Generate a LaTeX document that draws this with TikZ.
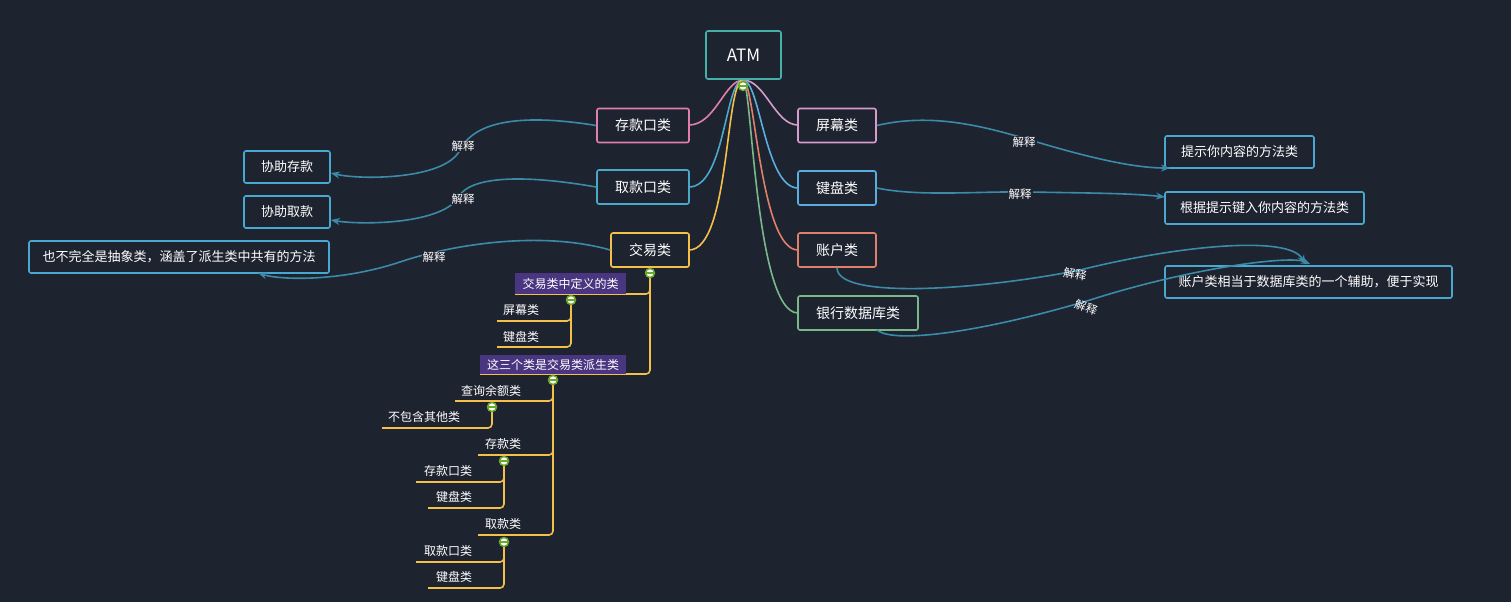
\documentclass[tikz,border=0pt]{standalone}
\usepackage{fontspec}
\setmainfont{Noto Sans CJK SC}
\usetikzlibrary{arrows.meta}
\definecolor{bg}{HTML}{1E2330}
\definecolor{cpink}{HTML}{E07FB0}
\definecolor{cteal}{HTML}{4AA8C8}
\definecolor{cyel}{HTML}{F5C04A}
\definecolor{clav}{HTML}{D89CCC}
\definecolor{cblue}{HTML}{5AAEE0}
\definecolor{csal}{HTML}{E0806A}
\definecolor{cgreen}{HTML}{7AB88A}
\definecolor{catm}{HTML}{45B0A8}
\definecolor{cleaf}{HTML}{4AA8D0}
\definecolor{conn}{HTML}{3A8AA8}
\definecolor{cpur}{HTML}{4A3580}
\definecolor{cknob}{HTML}{6AAA2A}
\tikzset{
 box/.style={draw=#1,line width=1.6pt,rounded corners=2pt,fill=bg,text=white,minimum height=34pt,font=\fontsize{14}{14}\selectfont,inner sep=0pt},
 leaf/.style={draw=cleaf,line width=1.6pt,rounded corners=2pt,fill=bg,text=white,minimum height=32pt,font=\fontsize{13}{13}\selectfont,inner sep=0pt},
 br/.style={line width=1.6pt,#1},
 rel/.style={draw=conn,line width=1.6pt,-{Stealth[length=9pt,width=7pt]}},
 lab/.style={text=white,font=\fontsize{11.5}{11.5}\selectfont,inner sep=1pt},
 sub/.style={text=white,font=\fontsize{12}{12}\selectfont,inner sep=1pt},
 pur/.style={fill=cpur,text=white,font=\fontsize{12}{12}\selectfont,inner sep=0pt},
 knob/.style={circle,fill=white,draw=cknob,line width=1.5pt,minimum size=9pt,inner sep=0pt,
   path picture={\draw[cknob,line width=1.5pt](path picture bounding box.west)--(path picture bounding box.east);}},
 yl/.style={draw=cyel,line width=1.6pt,rounded corners=4pt}
}
\begin{document}
\begin{tikzpicture}[x=1pt,y=-1pt]
\useasboundingbox[fill=bg] (0,0) rectangle (1511,602);
% main branches
\draw[br=cpink] (743,80) .. controls (725,80) and (715,125) .. (689,125);
\draw[br=cteal] (743,80) .. controls (725,80) and (725,187) .. (689,187);
\draw[br=cyel] (743,80) .. controls (725,80) and (730,250) .. (689,250);
\draw[br=clav] (743,80) .. controls (765,80) and (775,125) .. (798,125);
\draw[br=cblue] (743,80) .. controls (760,80) and (765,188) .. (798,188);
\draw[br=csal] (743,80) .. controls (755,80) and (760,250) .. (798,250);
\draw[br=cgreen] (743,80) .. controls (752,80) and (755,313) .. (798,313);
\node[box=catm,minimum width=75pt,minimum height=48pt,font=\fontsize{17}{17}\selectfont] (atm) at (743.5,55) {ATM};
\node[knob] (k0) at (743,86) {};
\node[box=cpink,minimum width=92pt] (ck) at (643,125.5) {存款口类};
\node[box=cteal,minimum width=92pt] (qk) at (643,187) {取款口类};
\node[box=cyel,minimum width=78pt] (jy) at (650,250) {交易类};
\node[box=clav,minimum width=78pt] (pm) at (837,125.5) {屏幕类};
\node[box=cblue,minimum width=78pt] (jp) at (837,188) {键盘类};
\node[box=csal,minimum width=78pt] (zh) at (837,250) {账户类};
\node[box=cgreen,minimum width=120pt] (yh) at (858,313) {银行数据库类};
\coordinate (yhb) at (877,330);
% leaves
\node[leaf,minimum width=86pt] (xzc) at (287,167) {协助存款};
\node[leaf,minimum width=86pt] (xzq) at (287,212) {协助取款};
\node[leaf,minimum width=300pt] (bw) at (179,257) {也不完全是抽象类，涵盖了派生类中共有的方法};
\node[leaf,minimum width=149pt] (ts) at (1239.5,152) {提示你内容的方法类};
\node[leaf,minimum width=199pt] (gj) at (1264.5,208) {根据提示键入你内容的方法类};
\node[leaf,minimum width=287pt] (zx) at (1308.5,282) {账户类相当于数据库类的一个辅助，便于实现};
% relations
\draw[rel] (ck.west) .. controls (500,110) and (470,130) .. (460,150) .. controls (445,180) and (360,180) .. (xzc.east|-0,173);
\draw[rel] (qk.west) .. controls (510,172) and (470,180) .. (460,195) .. controls (445,225) and (360,225) .. (xzq.east|-0,220);
\draw[rel] (jy.west) .. controls (540,230) and (450,245) .. (400,262) .. controls (340,282) and (280,280) .. (258,273);
\draw[rel] (pm.east) .. controls (930,113) and (980,125) .. (1030,140) .. controls (1080,155) and (1130,168) .. (1170,168);
\draw[rel] (jp.east) .. controls (920,197) and (980,191) .. (1030,192) .. controls (1080,193) and (1130,193) .. (1165,197);
\draw[rel] (zh.south) .. controls (837,300) and (980,290) .. (1080,270) .. controls (1180,245) and (1290,235) .. (1305,264);
\draw[rel] (yhb) .. controls (895,345) and (990,330) .. (1090,300) .. controls (1190,268) and (1290,255) .. (1310,264);
\node[lab,fill=bg] at (463,146) {解释};
\node[lab,fill=bg] at (463,199) {解释};
\node[lab,fill=bg] at (434,257) {解释};
\node[lab,fill=bg] at (1024,142) {解释};
\node[lab,fill=bg] at (1020,194) {解释};
\node[lab,rotate=-10] at (1075,274) {解释};
\node[lab,rotate=-20] at (1086,307) {解释};
% sub tree
\draw[yl] (650,273) -- (650,374) -- (480,374);
\draw[yl] (650,280) -- (650,294) -- (515,294);
\node[pur,minimum width=111pt,minimum height=21pt] (d1) at (570.5,283.5) {交易类中定义的类};
\node[pur,minimum width=146pt,minimum height=19pt] (d2) at (553,364.5) {这三个类是交易类派生类};
\draw[yl] (571,300) -- (571,321) -- (497,321);
\draw[yl] (571,310) -- (571,347) -- (497,347);
\node[sub] (s1) at (521,310) {屏幕类};
\node[sub] (s2) at (521,337) {键盘类};
\draw[yl] (553,380) -- (553,401) -- (455,401);
\draw[yl] (553,390) -- (553,455) -- (478,455);
\draw[yl] (553,440) -- (553,535) -- (478,535);
\node[sub] (c1) at (491,391) {查询余额类};
\node[sub] (c2) at (503,444) {存款类};
\node[sub] (c3) at (503,524) {取款类};
\draw[yl] (492,407) -- (492,428) -- (382,428);
\node[sub] (e1) at (424,417) {不包含其他类};
\draw[yl] (504,461) -- (504,482) -- (416,482);
\draw[yl] (504,470) -- (504,508) -- (428,508);
\node[sub] (f1) at (448,471) {存款口类};
\node[sub] (f2) at (454,497) {键盘类};
\draw[yl] (504,542) -- (504,562) -- (416,562);
\draw[yl] (504,550) -- (504,588) -- (428,588);
\node[sub] (g1) at (448,551) {取款口类};
\node[sub] (g2) at (454,577) {键盘类};
\node[knob] at (650,273) {};
\node[knob] at (571,300) {};
\node[knob] at (553,380) {};
\node[knob] at (492,407) {};
\node[knob] at (504,461) {};
\node[knob] at (504,542) {};
\end{tikzpicture}
\end{document}
